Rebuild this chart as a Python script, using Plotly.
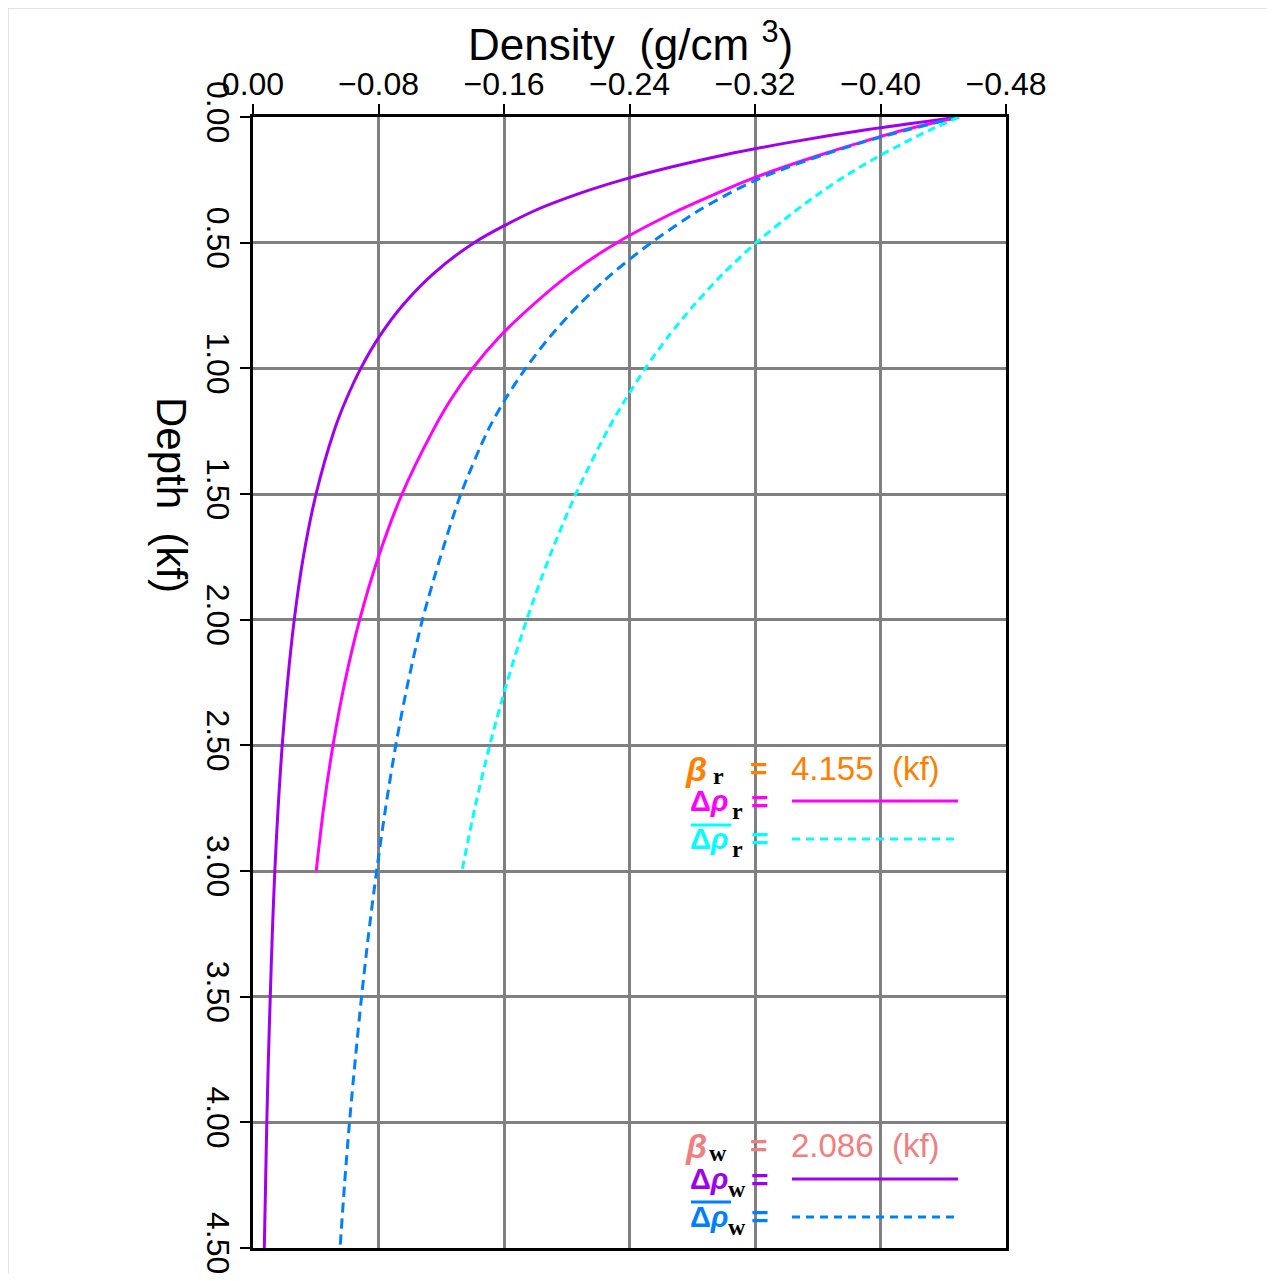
import plotly.graph_objects as go

# ---------------- data ----------------
depth_w = [0, 0.05, 0.1, 0.15, 0.2, 0.25, 0.3, 0.375, 0.5, 0.625, 0.75, 0.875,
           1.0, 1.125, 1.25, 1.5, 1.75, 2.0, 2.25, 2.5, 2.75, 3.0, 3.25, 3.5,
           3.75, 4.0, 4.25, 4.5]
drho_w = [-0.450, -0.392, -0.343, -0.301, -0.266, -0.2355, -0.210, -0.1787,
          -0.141, -0.1147, -0.0953, -0.0804, -0.0687, -0.0593, -0.0516, -0.0402,
          -0.0321, -0.0263, -0.0220, -0.0186, -0.0160, -0.0139, -0.0123, -0.0110,
          -0.0098, -0.0088, -0.0080, -0.0072]
drho_w_mean = [-0.450, -0.418, -0.389, -0.364, -0.341, -0.321, -0.3047, -0.2834,
               -0.2539, -0.2286, -0.2073, -0.1892, -0.1738, -0.1606, -0.1495, -0.1325,
               -0.1195, -0.108, -0.0988, -0.091, -0.0845, -0.0788, -0.0737, -0.0692,
               -0.0652, -0.0615, -0.0583, -0.0555]

depth_r = [0, 0.05, 0.1, 0.15, 0.2, 0.25, 0.3, 0.375, 0.5, 0.625, 0.75, 0.875,
           1.0, 1.125, 1.25, 1.5, 1.75, 2.0, 2.25, 2.5, 2.75, 3.0]
drho_r = [-0.450, -0.416, -0.388, -0.362, -0.338, -0.316, -0.297, -0.270,
          -0.232, -0.202, -0.178, -0.157, -0.140, -0.126, -0.1145, -0.095,
          -0.080, -0.068, -0.0585, -0.051, -0.045, -0.0403]
drho_r_mean = [-0.450, -0.432, -0.4159, -0.4007, -0.3867, -0.3738, -0.3619, -0.3454,
               -0.3208, -0.2994, -0.2809, -0.2645, -0.2501, -0.2373, -0.2257, -0.2058,
               -0.189, -0.1745, -0.1619, -0.1509, -0.1414, -0.1332]

x_ticks = [0.0, -0.08, -0.16, -0.24, -0.32, -0.40, -0.48]
x_ticktext = ["0.00", "\u22120.08", "\u22120.16", "\u22120.24", "\u22120.32", "\u22120.40", "\u22120.48"]
y_ticks = [0.0, 0.5, 1.0, 1.5, 2.0, 2.5, 3.0, 3.5, 4.0, 4.5]
y_ticktext = ["0.00", "0.50", "1.00", "1.50", "2.00", "2.50", "3.00", "3.50", "4.00", "4.50"]

beta_r_text = "4.155"
beta_w_text = "2.086"

# ---------------- styles ----------------
PURPLE = "#A000F0"
MAGENTA = "#FF00FF"
BLUE = "#0080FF"
CYAN = "#00FFFF"
ORANGE = "#FF8000"
SALMON = "#F08080"
SANS = "Liberation Sans, Arial, sans-serif"
SERIF = "Liberation Serif, Times New Roman, serif"

OFF = 8  # page body margin
W, H = 1275 - 2 * OFF, 1281 - 2 * OFF
L, R, T, B = 253, 1006, 117, 1248   # plot area in page pixels


def px(x):
    return (x - L) / (R - L)


def py(y):
    return 1 - (y - T) / (B - T)


fig = go.Figure()
fig.add_trace(go.Scatter(x=drho_w, y=depth_w, mode="lines",
                         line=dict(color=PURPLE, width=3, shape="spline", smoothing=0.8)))
fig.add_trace(go.Scatter(x=drho_r, y=depth_r, mode="lines",
                         line=dict(color=MAGENTA, width=3, shape="spline", smoothing=0.8)))
fig.add_trace(go.Scatter(x=drho_w_mean, y=depth_w, mode="lines",
                         line=dict(color=BLUE, width=3, dash="10px,6px", shape="spline", smoothing=0.8)))
fig.add_trace(go.Scatter(x=drho_r_mean, y=depth_r, mode="lines",
                         line=dict(color=CYAN, width=3, dash="8px,5px", shape="spline", smoothing=0.8)))

axis_common = dict(showgrid=True, gridcolor="#808080", gridwidth=2.5, zeroline=False,
                   showline=True, linecolor="black", linewidth=3, mirror=True,
                   ticks="outside", ticklen=10, tickwidth=2, tickcolor="black",
                   ticklabeloverflow="allow", automargin=False,
                   tickfont=dict(family=SANS, size=32, color="black"))

fig.update_layout(
    width=W, height=H, autosize=False,
    margin=dict(l=L - OFF, r=W - (R - OFF), t=T - OFF, b=H - (B - OFF), pad=0),
    paper_bgcolor="white", plot_bgcolor="white",
    showlegend=False,
    xaxis=dict(range=[0, -0.48], side="top", tickvals=x_ticks, ticktext=x_ticktext,
               ticklabelstandoff=-4, **axis_common),
    yaxis=dict(range=[4.5, 0], tickvals=y_ticks, ticktext=y_ticktext, tickangle=90,
               ticklabelstandoff=-5, **axis_common),
)

ann = []
# axis titles
ann.append(dict(x=px(630), y=py(41), xref="paper", yref="paper", showarrow=False,
                text="Density  (g/cm <sup>3</sup>)", font=dict(family=SANS, size=44, color="black"),
                xanchor="center", yanchor="middle"))
ann.append(dict(x=px(172), y=py(495), xref="paper", yref="paper", showarrow=False,
                text="Depth  (kf)", textangle=90, font=dict(family=SANS, size=42, color="black"),
                xanchor="center", yanchor="middle"))


def label_block(y_beta, y_drho, y_mean, beta_col, drho_col, mean_col, sub, beta_val):
    items = []
    # beta line
    items.append(dict(x=px(696), y=py(y_beta), text="<b><i>\u03b2</i></b>",
                      font=dict(family=SANS, size=34, color=beta_col), xanchor="center"))
    items.append(dict(x=px(718), y=py(y_beta + 7), text="<b>" + sub + "</b>",
                      font=dict(family=SERIF, size=24, color="black"), xanchor="center"))
    items.append(dict(x=px(759), y=py(y_beta - 1), text="<b>=</b>",
                      font=dict(family=SANS, size=30, color=beta_col), xanchor="center"))
    items.append(dict(x=px(789), y=py(y_beta - 1), text=beta_val + "  (kf)",
                      font=dict(family=SANS, size=33, color=beta_col), xanchor="left"))
    # delta rho line
    items.append(dict(x=px(709), y=py(y_drho), text="<b>\u0394<i>\u03c1</i></b>",
                      font=dict(family=SANS, size=29, color=drho_col), xanchor="center"))
    items.append(dict(x=px(737), y=py(y_drho + 10), text="<b>" + sub + "</b>",
                      font=dict(family=SERIF, size=24, color="black"), xanchor="center"))
    items.append(dict(x=px(760), y=py(y_drho), text="<b>=</b>",
                      font=dict(family=SANS, size=30, color=drho_col), xanchor="center"))
    # mean delta rho line
    items.append(dict(x=px(709), y=py(y_mean), text="<b>\u0394<i>\u03c1</i></b>",
                      font=dict(family=SANS, size=29, color=mean_col), xanchor="center"))
    items.append(dict(x=px(737), y=py(y_mean + 10), text="<b>" + sub + "</b>",
                      font=dict(family=SERIF, size=24, color="black"), xanchor="center"))
    items.append(dict(x=px(760), y=py(y_mean - 1), text="<b>=</b>",
                      font=dict(family=SANS, size=30, color=mean_col), xanchor="center"))
    for it in items:
        it.update(xref="paper", yref="paper", showarrow=False, yanchor="middle")
    return items


ann += label_block(769, 801, 839, ORANGE, MAGENTA, CYAN, "r", beta_r_text)
ann += label_block(1146, 1179, 1217, SALMON, PURPLE, BLUE, "w", beta_w_text)
fig.update_layout(annotations=ann)

shapes = []
# legend sample lines
shapes.append(dict(type="line", xref="paper", yref="paper", x0=px(792), x1=px(958),
                   y0=py(801), y1=py(801), line=dict(color=MAGENTA, width=3)))
shapes.append(dict(type="line", xref="paper", yref="paper", x0=px(792), x1=px(958),
                   y0=py(839), y1=py(839), line=dict(color=CYAN, width=3, dash="8px,6px")))
shapes.append(dict(type="line", xref="paper", yref="paper", x0=px(792), x1=px(958),
                   y0=py(1179), y1=py(1179), line=dict(color=PURPLE, width=3)))
shapes.append(dict(type="line", xref="paper", yref="paper", x0=px(792), x1=px(958),
                   y0=py(1217), y1=py(1217), line=dict(color=BLUE, width=3, dash="8px,6px")))
# overlines
shapes.append(dict(type="line", xref="paper", yref="paper", x0=px(691), x1=px(731),
                   y0=py(825), y1=py(825), line=dict(color=CYAN, width=3)))
shapes.append(dict(type="line", xref="paper", yref="paper", x0=px(691), x1=px(731),
                   y0=py(1202), y1=py(1202), line=dict(color=BLUE, width=3)))
# outer frame of the image
shapes.append(dict(type="rect", xref="paper", yref="paper", x0=px(8), x1=px(1300),
                   y0=py(1300), y1=py(8), line=dict(color="#C8C8C8", width=1), layer="below"))
fig.update_layout(shapes=shapes)

fig.write_html("out.html")
